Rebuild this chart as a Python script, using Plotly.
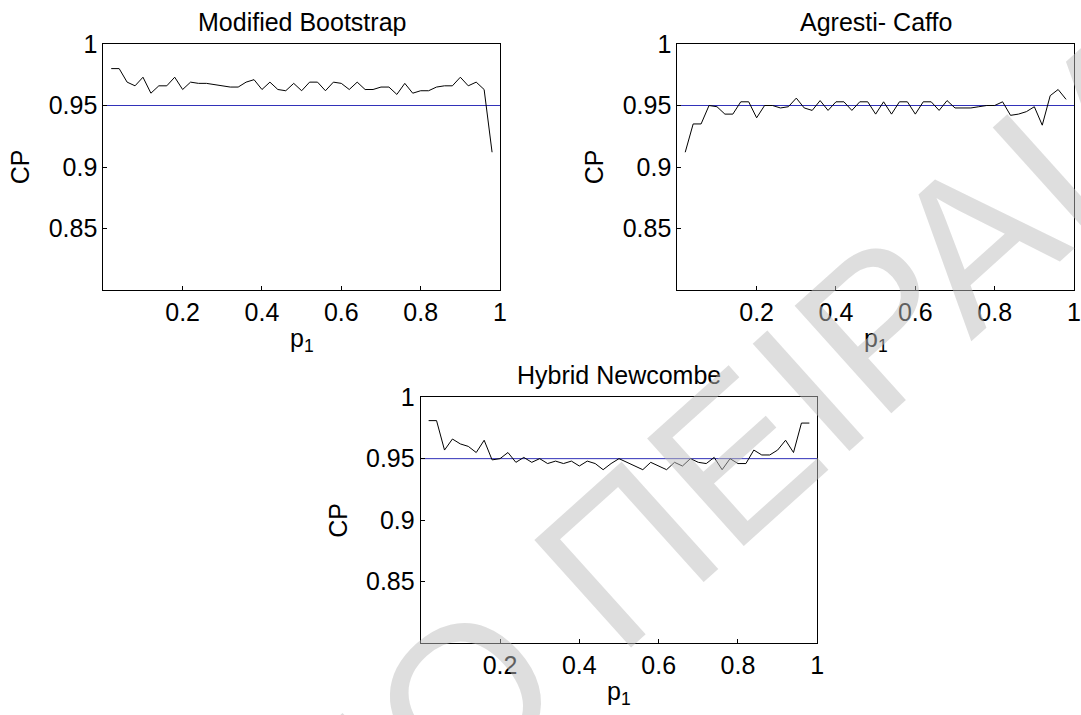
import plotly.graph_objects as go

# ---- data ----
p1 = [round(0.02 * i, 2) for i in range(1, 50)]

modified_bootstrap = [
    0.980, 0.980, 0.969, 0.966, 0.973, 0.960, 0.966, 0.966, 0.973, 0.963,
    0.969, 0.968, 0.968, 0.967, 0.966, 0.965, 0.965, 0.969, 0.971, 0.963,
    0.969, 0.963, 0.962, 0.968, 0.962, 0.969, 0.969, 0.962, 0.969, 0.968,
    0.963, 0.969, 0.963, 0.963, 0.965, 0.965, 0.959, 0.968, 0.960, 0.962,
    0.962, 0.965, 0.966, 0.966, 0.973, 0.966, 0.969, 0.963, 0.912,
]

agresti_caffo = [
    0.912, 0.935, 0.935, 0.950, 0.949, 0.943, 0.943, 0.953, 0.953, 0.940,
    0.950, 0.950, 0.948, 0.949, 0.956, 0.948, 0.946, 0.954, 0.946, 0.953,
    0.953, 0.946, 0.953, 0.953, 0.943, 0.953, 0.943, 0.953, 0.953, 0.943,
    0.953, 0.953, 0.946, 0.954, 0.948, 0.948, 0.948, 0.949, 0.950, 0.950,
    0.953, 0.942, 0.943, 0.945, 0.949, 0.934, 0.958, 0.963, 0.955,
]

hybrid_newcombe = [
    0.981, 0.981, 0.957, 0.966, 0.962, 0.960, 0.955, 0.965, 0.949, 0.950,
    0.955, 0.947, 0.951, 0.947, 0.950, 0.946, 0.948, 0.946, 0.948, 0.944,
    0.948, 0.946, 0.941, 0.946, 0.950, 0.947, 0.944, 0.941, 0.947, 0.944,
    0.941, 0.947, 0.944, 0.950, 0.947, 0.946, 0.951, 0.941, 0.950, 0.946,
    0.946, 0.957, 0.953, 0.953, 0.957, 0.965, 0.955, 0.979, 0.979,
]

nominal = 0.95
titles = ["Modified Bootstrap", "Agresti- Caffo", "Hybrid Newcombe"]
x_tickvals = [0.2, 0.4, 0.6, 0.8, 1.0]
x_ticktext = ["0.2", "0.4", "0.6", "0.8", "1"]
y_tickvals = [0.85, 0.9, 0.95, 1.0]
y_ticktext = ["0.85", "0.9", "0.95", "1"]
watermark = "ΠΑΝΕΠΙΣΤΗΜΙΟ ΠΕΙΡΑΙΑ"

W, H = 1081, 715
FONT = "Liberation Sans, Arial, sans-serif"

boxes = [
    (103.3, 44.0, 500.0, 290.0),
    (677.3, 44.0, 1074.0, 290.0),
    (420.7, 397.3, 817.3, 642.7),
]

series = [modified_bootstrap, agresti_caffo, hybrid_newcombe]

fig = go.Figure()
annotations = []

for k, (vals, title, box) in enumerate(zip(series, titles, boxes)):
    l, t, r, b = box
    xa = "x" if k == 0 else f"x{k+1}"
    ya = "y" if k == 0 else f"y{k+1}"
    xkey = "xaxis" if k == 0 else f"xaxis{k+1}"
    ykey = "yaxis" if k == 0 else f"yaxis{k+1}"

    fig.add_trace(go.Scatter(
        x=[0, 1], y=[nominal, nominal], mode="lines",
        line=dict(color="rgb(50,50,185)", width=1),
        xaxis=xa, yaxis=ya, showlegend=False, hoverinfo="skip",
    ))
    fig.add_trace(go.Scatter(
        x=p1, y=vals, mode="lines",
        line=dict(color="black", width=1),
        xaxis=xa, yaxis=ya, showlegend=False,
    ))

    common = dict(
        showgrid=False, zeroline=False, showline=True, linecolor="black",
        linewidth=1, mirror=True, ticks="inside", ticklen=4, tickwidth=1,
        tickcolor="black", automargin=False,
        tickfont=dict(family=FONT, size=25, color="black"),
    )
    fig.layout[xkey] = dict(
        domain=[l / W, r / W], range=[0, 1], anchor=ya,
        tickvals=x_tickvals, ticktext=x_ticktext, **common,
    )
    fig.layout[ykey] = dict(
        domain=[1 - b / H, 1 - t / H], range=[0.8, 1.0], anchor=xa,
        tickvals=y_tickvals, ticktext=y_ticktext, **common,
    )

    cx = (l + r) / 2
    cy = (t + b) / 2
    annotations.append(dict(
        text=title, x=cx / W, y=1 - (t - 22) / H, xref="paper", yref="paper",
        xanchor="center", yanchor="middle", showarrow=False,
        font=dict(family=FONT, size=25, color="black"),
    ))
    annotations.append(dict(
        text="p<sub>1</sub>", x=cx / W, y=1 - (b + 50) / H, xref="paper", yref="paper",
        xanchor="center", yanchor="middle", showarrow=False,
        font=dict(family=FONT, size=25, color="black"),
    ))
    annotations.append(dict(
        text="CP", x=(l - 83) / W, y=1 - cy / H, xref="paper", yref="paper",
        xanchor="center", yanchor="middle", showarrow=False, textangle=-90,
        font=dict(family=FONT, size=25, color="black"),
    ))

annotations.append(dict(
    text=watermark, x=255 / W, y=1 - 888 / H,
    xref="paper", yref="paper", xanchor="center", yanchor="middle",
    showarrow=False, textangle=-42,
    font=dict(family=FONT, size=210, color="rgba(190,190,190,0.5)"),
))

fig.update_layout(
    width=W, height=H, margin=dict(l=0, r=0, t=0, b=0, pad=0, autoexpand=False),
    paper_bgcolor="white", plot_bgcolor="white",
    annotations=annotations, showlegend=False,
)

fig.write_html("out.html")
